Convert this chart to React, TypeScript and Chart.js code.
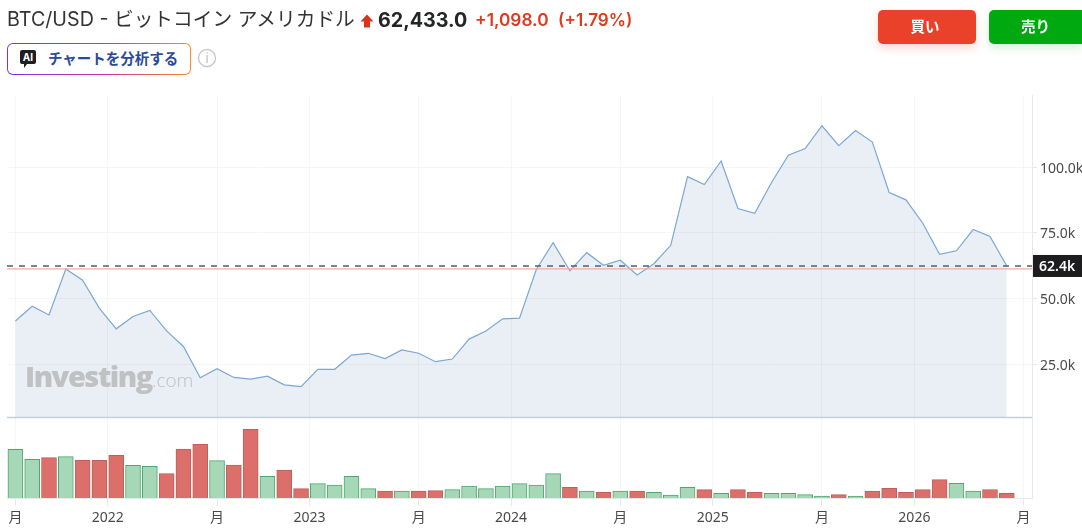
import React, { useEffect, useRef } from "react";
import { Chart, registerables } from "chart.js";

Chart.register(...registerables);

const months = [
  "2021-07","2021-08","2021-09","2021-10","2021-11","2021-12",
  "2022-01","2022-02","2022-03","2022-04","2022-05","2022-06","2022-07","2022-08","2022-09","2022-10","2022-11","2022-12",
  "2023-01","2023-02","2023-03","2023-04","2023-05","2023-06","2023-07","2023-08","2023-09","2023-10","2023-11","2023-12",
  "2024-01","2024-02","2024-03","2024-04","2024-05","2024-06","2024-07","2024-08","2024-09","2024-10","2024-11","2024-12",
  "2025-01","2025-02","2025-03","2025-04","2025-05","2025-06","2025-07","2025-08","2025-09","2025-10","2025-11","2025-12",
  "2026-01","2026-02","2026-03","2026-04","2026-05","2026-06",
];
const prices = [
  41500, 47100, 43800, 61300, 57000, 46300,
  38500, 43200, 45500, 37700, 31800, 19900, 23300, 20000, 19400, 20500, 17200, 16500,
  23100, 23100, 28500, 29200, 27200, 30500, 29200, 26000, 27000, 34600, 37700, 42300,
  42600, 61100, 71300, 60600, 67500, 62700, 64600, 59000, 63300, 70300, 96400, 93400,
  102400, 84300, 82500, 94200, 104600, 107100, 115800, 108200, 114000, 109600, 90400, 87600,
  78700, 66900, 68200, 76300, 73700, 62433,
];
const volumes = [
  487, 387, 403, 413, 377, 377,
  427, 327, 317, 243, 490, 537, 373, 330, 687, 217, 280, 93,
  143, 130, 217, 93, 70, 70, 70, 73, 83, 120, 93, 120,
  143, 130, 243, 107, 70, 57, 70, 70, 57, 30, 107, 83,
  47, 83, 57, 47, 47, 33, 20, 33, 20, 70, 97, 57,
  83, 183, 147, 70, 83, 47,
];
const priceTickValues = [25000, 50000, 75000, 100000];
const timeTickPositions = [0, 5.5, 12, 17.5, 24, 29.5, 36, 41.5, 48, 53.5, 60];
const timeTickLabels = ["月", "2022", "月", "2023", "月", "2024", "月", "2025", "月", "2026", "月"];
const lastPrice = 62433;
const previousClose = 61335;
const lastPriceLabel = "62.4k";

const AXIS_FONT = '"Noto Sans", "Noto Sans CJK JP", sans-serif';
const UI_FONT = 'Inter, "Noto Sans CJK JP", sans-serif';
const GRID = "#f5f6f9";
const EDGE = "#e4e8f0";

const paneDivider = {
  id: "paneDivider",
  afterDatasetsDraw(chart: any) {
    const { ctx, chartArea, scales } = chart;
    const y = Math.round(scales.y.bottom) + 0.5;
    ctx.save();
    ctx.strokeStyle = "#c6ced8";
    ctx.lineWidth = 1.5;
    ctx.beginPath();
    ctx.moveTo(chartArea.left, y);
    ctx.lineTo(chartArea.right, y);
    ctx.stroke();
    ctx.restore();
  },
};

const lastPriceTag = {
  id: "lastPriceTag",
  afterDraw(chart: any) {
    const { ctx, chartArea, scales, width } = chart;
    const y = scales.y.getPixelForValue(lastPrice);
    ctx.save();
    ctx.fillStyle = "#1d1d1f";
    ctx.fillRect(chartArea.right + 1, y - 11, width - chartArea.right - 1, 22);
    ctx.fillStyle = "#ffffff";
    ctx.font = `600 14px ${AXIS_FONT}`;
    ctx.textBaseline = "middle";
    ctx.textAlign = "left";
    ctx.fillText(lastPriceLabel, chartArea.right + 7, y + 1);
    ctx.restore();
  },
};

export default function App() {
  const ref = useRef<HTMLCanvasElement | null>(null);

  useEffect(() => {
    const xs = months.map((_, i) => i);
    const flat = (v: number) => [-0.5, 60.5].map((x) => ({ x, y: v }));
    const up = volumes.map((_, i) => i === 0 || prices[i] >= prices[i - 1]);
    const chart = new Chart(ref.current as HTMLCanvasElement, {
      type: "line",
      data: {
        datasets: [
          {
            type: "line",
            data: flat(previousClose),
            yAxisID: "y",
            borderColor: "#f7a8a2",
            borderWidth: 1.2,
            pointRadius: 0,
            fill: false,
            order: 2,
          },
          {
            type: "line",
            data: flat(lastPrice),
            yAxisID: "y",
            borderColor: "#5a5d61",
            borderWidth: 1.6,
            borderDash: [6, 6],
            pointRadius: 0,
            fill: false,
            order: 1,
          },
          {
            type: "line",
            data: prices.map((y, i) => ({ x: xs[i], y })),
            yAxisID: "y",
            borderColor: "#7ba7d6",
            borderWidth: 1.2,
            tension: 0,
            pointRadius: 0,
            fill: "start",
            backgroundColor: "rgba(20,80,140,0.095)",
            order: 3,
          },
          {
            type: "bar",
            data: volumes.map((y, i) => ({ x: xs[i], y })),
            yAxisID: "y1",
            barThickness: 15,
            backgroundColor: up.map((u) => (u ? "#a6d7b6" : "#dd6f6b")),
            borderColor: up.map((u) => (u ? "#50a66f" : "#b8625e")),
            borderWidth: 1,
            order: 4,
          },
        ],
      } as any,
      options: {
        animation: false,
        responsive: false,
        events: [],
        layout: { padding: { left: 7, top: 95, right: 0, bottom: 0 } },
        plugins: { legend: { display: false }, tooltip: { enabled: false } },
        scales: {
          x: {
            type: "linear",
            offset: false,
            min: -0.5,
            max: 60.5,
            afterBuildTicks(scale: any) {
              scale.ticks = timeTickPositions.map((value) => ({ value }));
            },
            afterFit(scale: any) {
              scale.height = 32;
            },
            grid: { offset: false, color: GRID, tickColor: EDGE, tickLength: 8 },
            border: { color: EDGE },
            ticks: {
              autoSkip: false,
              maxRotation: 0,
              padding: 4,
              color: "#4a4a4a",
              font: { family: AXIS_FONT, size: 14 },
              callback: (v: any) => timeTickLabels[timeTickPositions.indexOf(Number(v))],
            },
          },
          y: {
            type: "linear",
            position: "right",
            stack: "panes",
            stackWeight: 322,
            weight: 0,
            min: 4950,
            max: 127500,
            afterBuildTicks(scale: any) {
              scale.ticks = priceTickValues.map((value) => ({ value }));
            },
            afterFit(scale: any) {
              scale.width = 50;
            },
            grid: { color: GRID, tickColor: EDGE, tickLength: 5 },
            border: { color: EDGE },
            ticks: {
              padding: 3,
              labelOffset: 1.5,
              color: "#4a4a4a",
              font: { family: AXIS_FONT, size: 14 },
              callback: (v: any) => `${(Number(v) / 1000).toFixed(1)}k`,
            },
          },
          y1: {
            type: "linear",
            position: "right",
            stack: "panes",
            stackWeight: 81,
            weight: 1,
            min: 0,
            max: 810,
            afterFit(scale: any) {
              scale.width = 50;
            },
            grid: { display: false },
            border: { color: EDGE },
            ticks: { display: false },
          },
        },
      } as any,
      plugins: [paneDivider, lastPriceTag],
    });
    return () => chart.destroy();
  }, []);

  const abs = (o: React.CSSProperties): React.CSSProperties => ({ position: "absolute", whiteSpace: "nowrap", ...o });

  return (
    <div style={{ position: "fixed", left: 0, top: 0, width: 1082, height: 530, overflow: "hidden", background: "#fff", fontFamily: UI_FONT }}>
      <canvas ref={ref} width={1082} height={530} style={{ position: "absolute", left: 0, top: 0, display: "block" }} />

      <div style={abs({ left: 7, top: 6, fontSize: 19.7, lineHeight: "26px", color: "#333" })}>BTC/USD - ビットコイン アメリカドル</div>
      <svg style={abs({ left: 360, top: 14 })} width="14" height="14" viewBox="0 0 14 14">
        <path d="M7 0.5 L13.5 7.5 L10 7.5 L10 13.5 L4 13.5 L4 7.5 L0.5 7.5 Z" fill="#d9341c" />
      </svg>
      <div style={abs({ left: 378, top: 6, fontSize: 19.7, lineHeight: "28px", fontWeight: 700, color: "#232526" })}>62,433.0</div>
      <div style={abs({ left: 475, top: 7, fontSize: 17.3, lineHeight: "26px", fontWeight: 600, color: "#dd3a1e" })}>+1,098.0</div>
      <div style={abs({ left: 558, top: 7, fontSize: 17.1, lineHeight: "26px", fontWeight: 600, color: "#dd3a1e" })}>(+1.79%)</div>

      <div style={abs({ left: 7, top: 43, width: 184, height: 32, boxSizing: "border-box", padding: 1.2, borderRadius: 6, background: "linear-gradient(90deg,#7b2ff0 0%,#d0359a 55%,#ff8a1e 100%)" })}>
        <div style={{ width: "100%", height: "100%", background: "#fff", borderRadius: 4.8 }} />
      </div>
      <svg style={abs({ left: 19, top: 49 })} width="18" height="20" viewBox="0 0 18 20">
        <path d="M3 1 H15 a2 2 0 0 1 2 2 V13 a2 2 0 0 1 -2 2 H8 L5 19 V15 H3 a2 2 0 0 1 -2 -2 V3 a2 2 0 0 1 2 -2 Z" fill="#1f1f1f" />
        <text x="9" y="12" textAnchor="middle" fontSize="10" fontWeight="700" fill="#fff" fontFamily={UI_FONT}>AI</text>
      </svg>
      <div style={abs({ left: 48, top: 48, fontSize: 14.5, lineHeight: "22px", fontWeight: 700, color: "#2a4a9a" })}>チャートを分析する</div>
      <svg style={abs({ left: 197, top: 48 })} width="20" height="20" viewBox="0 0 20 20">
        <circle cx="10" cy="10" r="8.5" fill="none" stroke="#c9c9c9" strokeWidth="1.4" />
        <text x="10" y="15" textAnchor="middle" fontSize="13" fill="#bdbdbd" fontFamily={UI_FONT}>i</text>
      </svg>

      <div style={abs({ left: 878, top: 10, width: 94, paddingRight: 4, height: 34, borderRadius: 5, background: "#e9412a", boxShadow: "0 4px 10px rgba(233,65,42,0.22)", color: "#fff", fontWeight: 700, fontSize: 14.5, lineHeight: "34px", textAlign: "center" })}>買い</div>
      <div style={abs({ left: 989, top: 10, width: 93, height: 34, borderRadius: "5px 0 0 5px", background: "#00a90f", boxShadow: "0 4px 10px rgba(0,169,15,0.18)", color: "#fff", fontWeight: 700, fontSize: 14.5, lineHeight: "34px", textAlign: "center" })}>売り</div>

      <div style={abs({ left: 25, top: 355, fontFamily: '"Open Sans", sans-serif', color: "#bfc1c3", lineHeight: "42px" })}>
        <span style={{ fontSize: 29, fontWeight: 800, letterSpacing: -1.45 }}>Investing</span>
        <span style={{ fontSize: 19, fontWeight: 300 }}>.com</span>
      </div>
    </div>
  );
}
